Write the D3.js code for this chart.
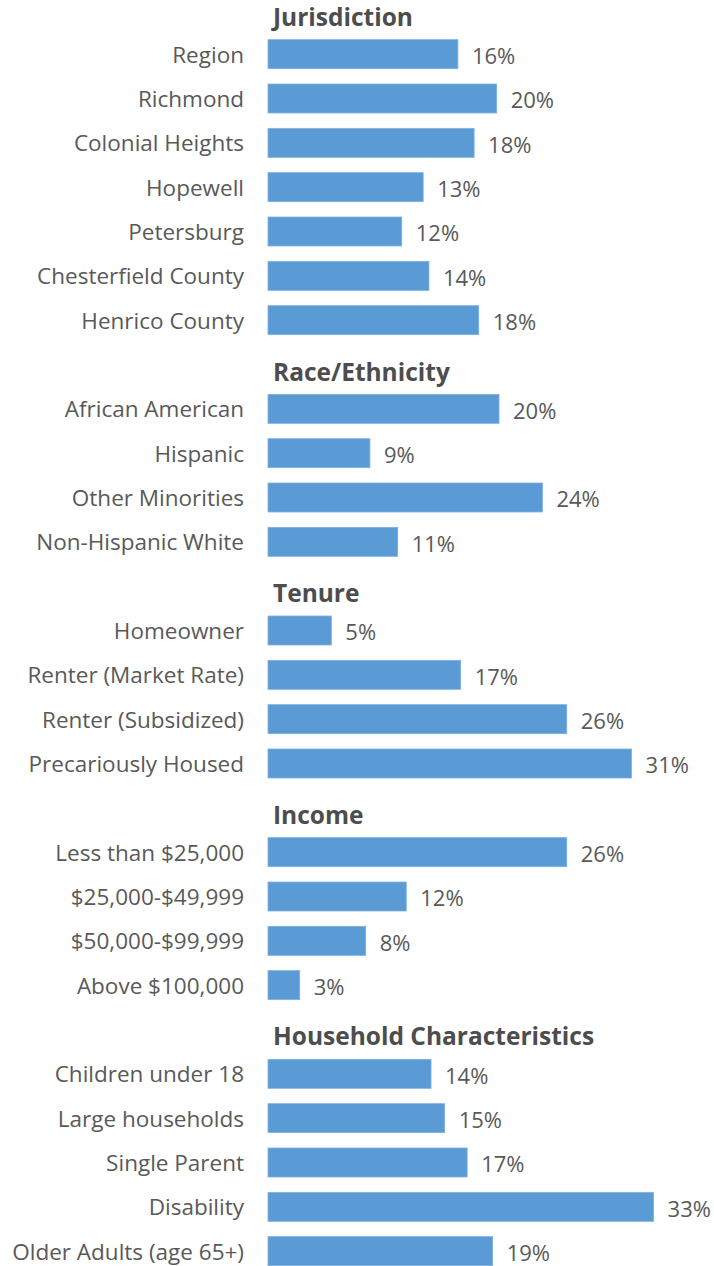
<!DOCTYPE html>
<html lang="en">
<head>
<meta charset="utf-8">
<title>Share by group</title>
<script src="https://cdn.jsdelivr.net/npm/d3@7"></script>
<style>
body { margin: 0; background: #fff; }
svg { display: block; font-family: "Open Sans", sans-serif; }
.cat { font-size: 22.5px; fill: #595959; }
.val { font-size: 22px; fill: #595959; }
.head { font-size: 24.5px; font-weight: bold; fill: #4d4d4d; }
</style>
</head>
<body>
<svg width="714" height="1266"></svg>
<script>
// groups, in order, with their rows
var groups = ["Jurisdiction", "Race/Ethnicity", "Tenure", "Income", "Household Characteristics"];

var jurisdiction = ["Region", "Richmond", "Colonial Heights", "Hopewell", "Petersburg", "Chesterfield County", "Henrico County"];
var jurisdictionVals = [0.164, 0.1975, 0.178, 0.134, 0.1155, 0.139, 0.182];

var race = ["African American", "Hispanic", "Other Minorities", "Non-Hispanic White"];
var raceVals = [0.1995, 0.088, 0.237, 0.112];

var tenure = ["Homeowner", "Renter (Market Rate)", "Renter (Subsidized)", "Precariously Housed"];
var tenureVals = [0.0547, 0.1664, 0.258, 0.314];

var income = ["Less than $25,000", "$25,000-$49,999", "$50,000-$99,999", "Above $100,000"];
var incomeVals = [0.258, 0.1194, 0.0844, 0.0274];

var household = ["Children under 18", "Large households", "Single Parent", "Disability", "Older Adults (age 65+)"];
var householdVals = [0.1408, 0.1526, 0.172, 0.333, 0.194];

var cats = [jurisdiction, race, tenure, income, household];
var vals = [jurisdictionVals, raceVals, tenureVals, incomeVals, householdVals];

// flatten: one slot for each header, one for each bar
var rows = [];
groups.forEach(function(g, i) {
  rows.push({key: "h" + i, type: "head", name: g});
  cats[i].forEach(function(c, j) {
    rows.push({key: "r" + i + "_" + j, type: "bar", name: c, value: vals[i][j]});
  });
});

var svg = d3.select("svg");

var y = d3.scaleBand()
  .domain(rows.map(function(d) { return d.key; }))
  .range([-20, 1281])
  .padding(0.346);

var x = d3.scaleLinear()
  .domain([0, 0.36])
  .range([268, 268 + 0.36 * 1158]);

var fmt = d3.format(".0%");

var bars = rows.filter(function(d) { return d.type == "bar"; });
var heads = rows.filter(function(d) { return d.type == "head"; });

svg.selectAll(".bar")
  .data(bars)
  .enter().append("rect")
    .attr("class", "bar")
    .attr("x", x(0))
    .attr("y", function(d) { return y(d.key); })
    .attr("width", function(d) { return x(d.value) - x(0); })
    .attr("height", y.bandwidth())
    .attr("fill", "#5b9bd5")
    .attr("stroke", "#7fb1e0")
    .attr("stroke-width", 0.8);

svg.selectAll(".cat")
  .data(bars)
  .enter().append("text")
    .attr("class", "cat")
    .attr("x", 244)
    .attr("y", function(d) { return y(d.key) + y.bandwidth() / 2; })
    .attr("dy", "0.38em")
    .attr("text-anchor", "end")
    .text(function(d) { return d.name; });

svg.selectAll(".val")
  .data(bars)
  .enter().append("text")
    .attr("class", "val")
    .attr("x", function(d) { return x(d.value) + 14; })
    .attr("y", function(d) { return y(d.key) + y.bandwidth() / 2 + 2; })
    .attr("dy", "0.36em")
    .text(function(d) { return fmt(d.value); });

svg.selectAll(".head")
  .data(heads)
  .enter().append("text")
    .attr("class", "head")
    .attr("x", 273)
    .attr("y", function(d) { return y(d.key) + y.bandwidth() / 2 + 16; })
    .text(function(d) { return d.name; });
</script>
</body>
</html>
